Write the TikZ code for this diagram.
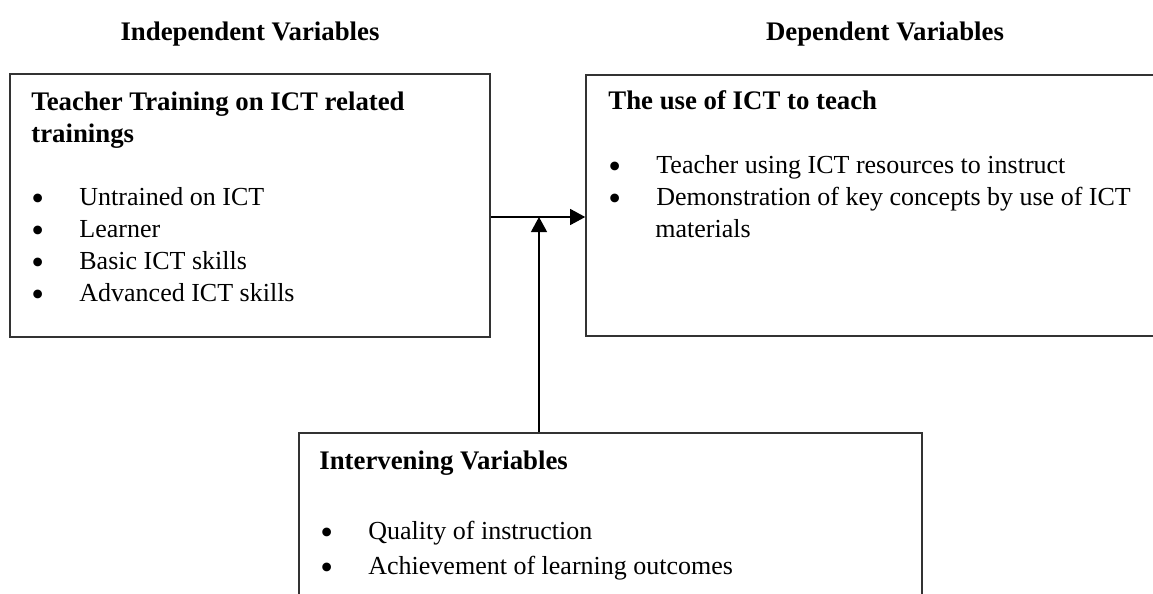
\documentclass[tikz,border=0pt]{standalone}
\usepackage{fontspec}
\setmainfont{Liberation Serif}
\usetikzlibrary{arrows.meta}
\newcommand{\bul}{\makebox[24pt][l]{\raisebox{-2.5pt}{\smash{\scalebox{1.4}{\textbullet}}}}}

\begin{document}
\begin{tikzpicture}
  [x=0.5pt, y=-0.5pt,
   every node/.style={font=\fontsize{13pt}{16pt}\selectfont},
   box/.style={draw=black!80, line width=0.8pt, inner sep=0},
   head/.style={font=\fontsize{13.4pt}{16pt}\selectfont\bfseries, anchor=base west, inner sep=0},
   txt/.style={anchor=base west, inner sep=0},
   tip/.style={-{Triangle[length=7.5pt, width=8pt]}, line width=0.6pt}]
  \useasboundingbox (0,0) rectangle (1153,594);
  \clip (0,0) rectangle (1153,594);

  % headings %
  \node[head, anchor=base] (hind) at (250,40) {Independent Variables};
  \node[head, anchor=base] (hdep) at (885,40) {Dependent Variables};

  % boxes %
  \node[box, minimum width=240pt, minimum height=131.5pt] (train) at (250,205.5) {};
  \node[box, minimum width=292pt, minimum height=130.5pt] (use) at (878,205.5) {};
  \node[box, minimum width=311.5pt, minimum height=93.5pt] (interv) at (610.5,526.5) {};

  % left box text %
  \node[head] (l1) at (31,110) {Teacher Training on ICT related};
  \node[head] (l2) at (31,142) {trainings};
  \node[txt] (l3) at (31,205) {\bul Untrained on ICT};
  \node[txt] (l4) at (31,237) {\bul Learner};
  \node[txt] (l5) at (31,269) {\bul Basic ICT skills};
  \node[txt] (l6) at (31,301) {\bul Advanced ICT skills};

  % right box text %
  \node[head] (r1) at (608,109) {The use of ICT to teach};
  \node[txt] (r2) at (608,173) {\bul Teacher using ICT resources to instruct};
  \node[txt] (r3) at (608,205) {\bul Demonstration of key concepts by use of ICT};
  \node[txt] (r4) at (655,237) {materials};

  % bottom box text %
  \node[head] (b1) at (319,469) {Intervening Variables};
  \node[txt] (b2) at (320,539) {\bul Quality of instruction};
  \node[txt] (b3) at (320,574) {\bul Achievement of learning outcomes};

  % edges %
  \coordinate (j) at (539,217);
  \draw[tip] (train.east |- j) -- (use.west |- j);
  \draw[tip] (interv.north -| j) -- (j);
\end{tikzpicture}
\end{document}
